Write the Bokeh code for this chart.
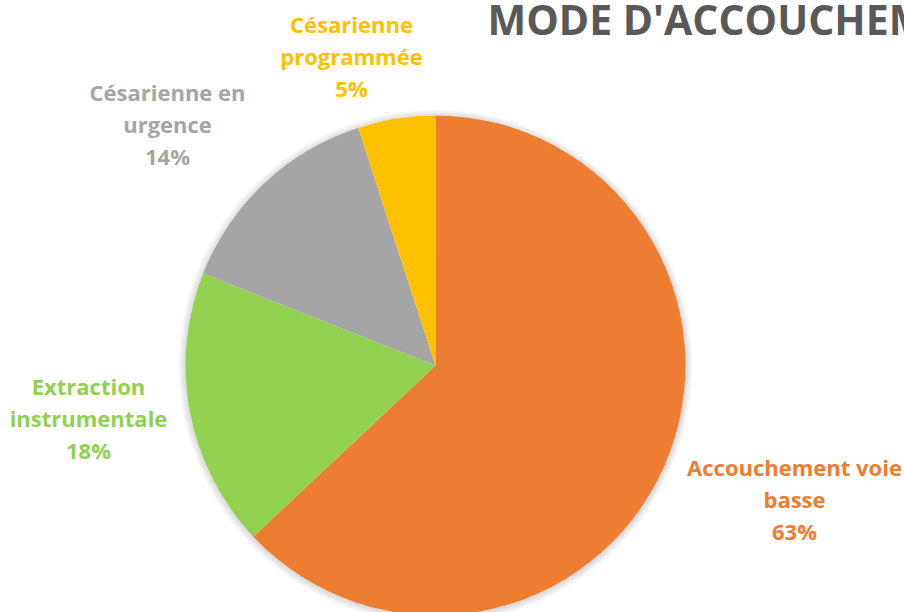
import math
from bokeh.plotting import figure
from bokeh.models import Range1d, ColumnDataSource
from bokeh.core.properties import value
from bokeh.embed import file_html
from bokeh.resources import INLINE

# ---- data ----
categories = ["Accouchement voie basse", "Extraction instrumentale",
              "Césarienne en urgence", "Césarienne programmée"]
label_lines = [["Accouchement voie", "basse"], ["Extraction", "instrumentale"],
               ["Césarienne en", "urgence"], ["Césarienne", "programmée"]]
percents = [63, 18, 14, 5]
colors = ["#ED7D31", "#92D050", "#A5A5A5", "#FFC000"]
title = "MODE D'ACCOUCHEMENT"

# ---- layout (screen px of the page) ----
W, H = 904, 612
def dx(sx): return sx
def dy(sy): return H - sy

cx, cy, R = dx(435), dy(365), 250
label_pos = [(794, 466), (88, 385), (167, 91), (351, 23)]  # centre x, first line y (screen)
line_gap = 32

p = figure(width=W, height=H, output_backend="svg", toolbar_location=None,
           x_range=Range1d(0, W), y_range=Range1d(0, H), min_border=0)
p.axis.visible = False
p.grid.visible = False
p.outline_line_color = None
p.background_fill_color = "white"
p.border_fill_color = "white"

# soft shadow
for k in range(1, 8):
    p.circle(x=[cx], y=[cy - 1], radius=R + k, fill_color="#000000",
             fill_alpha=0.018, line_color=None)
p.circle(x=[cx], y=[cy], radius=R, fill_color="white", line_color=None)

total = sum(percents)
starts, ends = [], []
a = math.pi / 2
for v in percents:
    starts.append(a)
    a -= v / total * 2 * math.pi
    ends.append(a)
src = ColumnDataSource(dict(x=[cx] * 4, y=[cy] * 4, start=starts, end=ends,
                            color=colors, cat=categories))
p.wedge(x="x", y="y", radius=R, start_angle="start", end_angle="end",
        direction="clock", fill_color="color", line_color=None, source=src)

# labels
tx, ty, tt, tc = [], [], [], []
for lines, pct, col, (sx, sy) in zip(label_lines, percents, colors, label_pos):
    for i, t in enumerate(lines + [f"{pct}%"]):
        tx.append(dx(sx)); ty.append(dy(sy + i * line_gap)); tt.append(t); tc.append(col)
p.text(x="x", y="y", text="t", text_color="c", source=ColumnDataSource(dict(x=tx, y=ty, t=tt, c=tc)),
       text_font=value("Open Sans"), text_font_style="bold", text_font_size="22px",
       text_align="center", text_baseline="middle")

p.text(x=[dx(487)], y=[dy(18)], text=[title], text_font=value("Open Sans"),
       text_font_style="bold", text_font_size="41px", text_color="#595959",
       text_align="left", text_baseline="middle")

open("out.html", "w").write(file_html(p, INLINE))
